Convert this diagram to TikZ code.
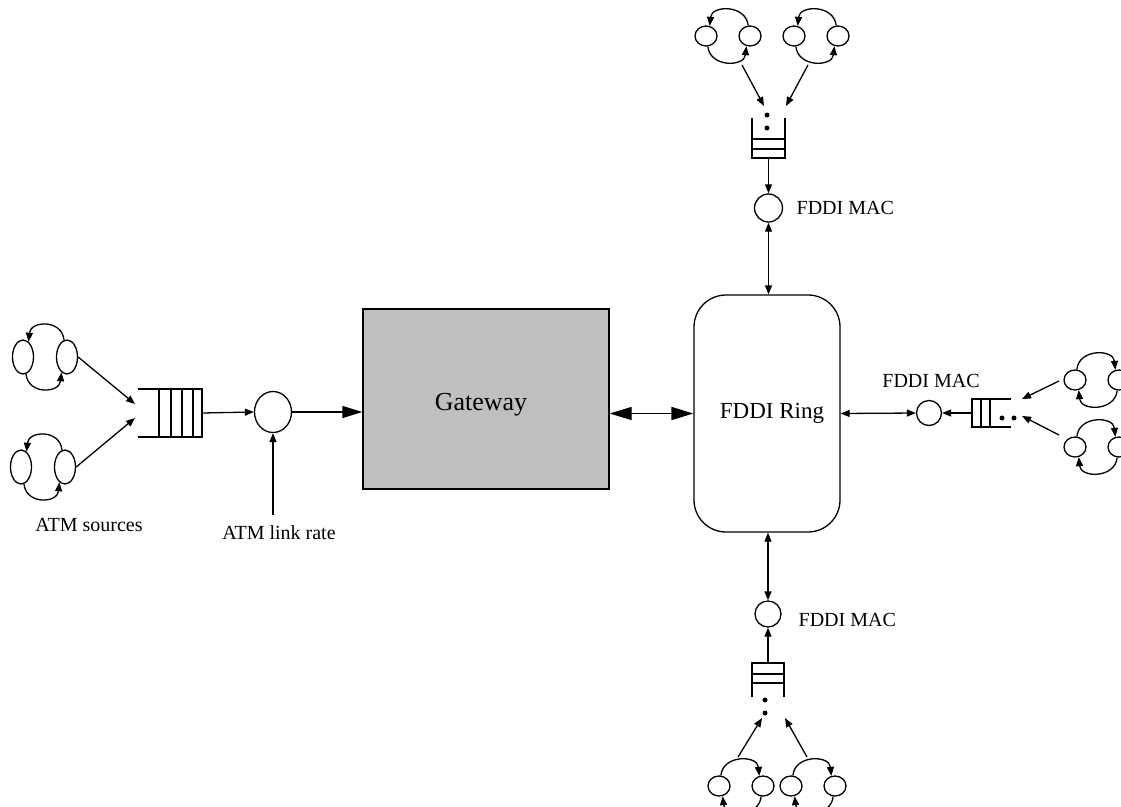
\documentclass[tikz,border=0pt]{standalone}
\usepackage{fontspec}
\setmainfont{Liberation Serif}
\usetikzlibrary{arrows.meta,shapes.geometric}
\tikzset{
  ell/.style={draw, ellipse, inner sep=0pt},
  atmell/.style={minimum width=21pt, minimum height=34pt},
  fdell/.style={minimum width=22pt, minimum height=20pt},
  sarr/.style={-{Triangle[length=9pt,width=7pt]}},
  sdarr/.style={{Triangle[length=9pt,width=7pt]}-{Triangle[length=9pt,width=7pt]}},
  barr/.style={-{Triangle[length=20pt,width=12pt]}},
  bdarr/.style={{Triangle[length=22pt,width=13pt]}-{Triangle[length=22pt,width=13pt]}},
  mac/.style={draw, circle, inner sep=0pt},
  qbox/.style={inner sep=0pt, outer sep=0pt},
  dot/.style={circle, fill, inner sep=0pt, minimum size=5pt},
  lbl/.style={font=\fontsize{20}{24}\selectfont, inner sep=0pt},
  pics/srcccw/.style={code={
    \node[ell,#1] (-a) at (-22,0) {};
    \node[ell,#1] (-b) at (22,0) {};
    \draw[sarr] (-b.100) .. controls +(-2,-21) and +(2,-21) .. (-a.70);
    \draw[sarr] (-a.-80) .. controls +(2,21) and +(-2,21) .. (-b.-110);
  }},
  pics/srccw/.style={code={
    \node[ell,#1] (-a) at (-22,0) {};
    \node[ell,#1] (-b) at (22,0) {};
    \draw[sarr] (-a.80) .. controls +(2,-21) and +(-2,-21) .. (-b.110);
    \draw[sarr] (-b.-100) .. controls +(-2,21) and +(2,21) .. (-a.-70);
  }}
}
\begin{document}
\begin{tikzpicture}[x=1pt,y=-1pt,line width=1.3pt]
\useasboundingbox (0,0) rectangle (1121,806);
\clip (0,0) rectangle (1121,806);

% ---------- ATM side ----------
\pic (s1) at (45,357) {srcccw=atmell};
\pic (s2) at (43,467) {srcccw=atmell};
\node[lbl] (lsrc) at (89,525) {ATM sources};

\node[qbox, minimum width=64pt, minimum height=48pt] (qa) at (170,413) {};
\draw (qa.north west) -- (qa.north east) -- (qa.south east) -- (qa.south west);
\foreach \x in {159,171,182,193} \draw (\x,389) -- (\x,437);

\coordinate (qa1) at (135,404);
\coordinate (qa2) at (135,418);
\draw[sarr] (s1-b.east) -- (qa1);
\draw[sarr] (s2-b.east) -- (qa2);

\node[ell, minimum width=37pt, minimum height=41pt] (atmc) at (273,412) {};
\draw[sarr] (qa.east) -- (atmc.west);
\coordinate (lr) at (273,515);
\draw[sarr] (lr) -- (atmc.south);
\node[lbl] (llr) at (279,533) {ATM link rate};

% ---------- Gateway ----------
\node[draw, fill=gray!50, minimum width=246pt, minimum height=180pt] (gw) at (486,399) {};
\node[font=\fontsize{26}{30}\selectfont, inner sep=0pt] (gwt) at (481,405) {Gateway};
\draw[barr] (atmc.east) -- (atmc.east -| gw.west);

% ---------- FDDI Ring ----------
\node[draw, rounded corners=32pt, minimum width=146pt, minimum height=237pt] (ring) at (767,413.5) {};
\node[font=\fontsize{23}{27}\selectfont, inner sep=0pt] (ringt) at (772,413) {FDDI Ring};
\draw[bdarr] (ring.west -| gw.east) -- (ring.west);

% ---------- top branch ----------
\node[mac, minimum size=28pt] (mact) at (768.5,208) {};
\node[lbl, anchor=west] (lmt) at (796,208) {FDDI MAC};
\draw[sdarr] (mact.south) -- (mact.south |- ring.north);
\node[qbox, minimum width=33pt, minimum height=40pt] (qt) at (768.5,138) {};
\draw (qt.north west) -- (qt.south west) -- (qt.south east) -- (qt.north east);
\foreach \y in {139,149} \draw (qt.west |- 0,\y) -- (qt.east |- 0,\y);
\node[dot] (dt1) at (767,115) {};
\node[dot] (dt2) at (767,128) {};
\draw[sarr] (qt.south) -- (mact.north);
\pic (t1) at (728,36) {srcccw=fdell};
\pic (t2) at (816,36) {srcccw=fdell};
\coordinate (t1s) at (742,65);
\coordinate (t1e) at (764,106);
\coordinate (t2s) at (808,65);
\coordinate (t2e) at (786,106);
\draw[sarr] (t1s) -- (t1e);
\draw[sarr] (t2s) -- (t2e);

% ---------- right branch ----------
\node[mac, minimum size=25pt] (macr) at (929,413) {};
\node[lbl] (lmr) at (931,381) {FDDI MAC};
\draw[sdarr] (ring.east) -- (macr.west);
\node[qbox, minimum width=39pt, minimum height=28pt] (qr) at (991.5,413) {};
\draw (qr.north east) -- (qr.north west) -- (qr.south west) -- (qr.south east);
\foreach \x in {981,990} \draw (\x,399) -- (\x,427);
\node[dot] (dr1) at (1002,418) {};
\node[dot] (dr2) at (1014,418) {};
\draw[sarr] (qr.west) -- (macr.east);
\pic (r1) at (1097,380) {srccw=fdell};
\pic (r2) at (1097,447) {srccw=fdell};
\coordinate (r1s) at (1059,381);
\coordinate (r1e) at (1022,399);
\coordinate (r2s) at (1059,435);
\coordinate (r2e) at (1022,416);
\draw[sarr] (r1s) -- (r1e);
\draw[sarr] (r2s) -- (r2e);

% ---------- bottom branch ----------
\node[mac, minimum size=26pt] (macb) at (768,614) {};
\node[lbl, anchor=west] (lmb) at (798,620) {FDDI MAC};
\draw[sdarr] (macb.north) -- (macb.north |- ring.south);
\node[qbox, minimum width=32pt, minimum height=34pt] (qb) at (768,680) {};
\draw (qb.south west) -- (qb.north west) -- (qb.north east) -- (qb.south east);
\foreach \y in {674,683} \draw (752,\y) -- (784,\y);
\node[dot] (db1) at (765,700) {};
\node[dot] (db2) at (765,713) {};
\draw[sarr] (qb.north) -- (macb.south);
\pic (b1) at (741,786) {srccw=fdell};
\pic (b2) at (813,786) {srccw=fdell};
\coordinate (b1s) at (738,757);
\coordinate (b1e) at (762,718);
\coordinate (b2s) at (807,757);
\coordinate (b2e) at (785,718);
\draw[sarr] (b1s) -- (b1e);
\draw[sarr] (b2s) -- (b2e);
\end{tikzpicture}
\end{document}
